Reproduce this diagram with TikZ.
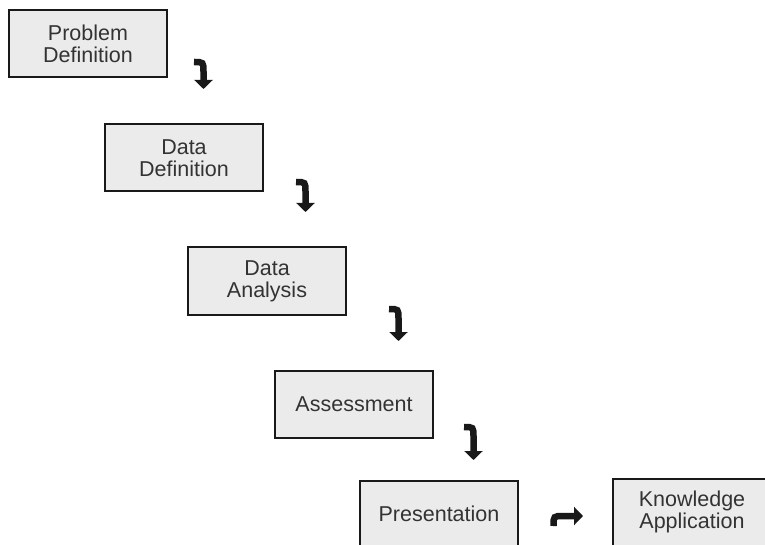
\documentclass[tikz,border=0pt]{standalone}
\usepackage{fontspec}
\setmainfont{Liberation Sans}
\usepackage{tikz}
\usetikzlibrary{arrows.meta,calc}
\definecolor{boxfill}{HTML}{EBEBEB}
\definecolor{boxtext}{HTML}{333333}
\tikzset{
  stepbox/.style={draw=black!90, line width=2pt, fill=boxfill, text=boxtext,
    minimum width=158pt, minimum height=67pt, align=center, inner sep=0pt,
    font=\fontsize{21.5}{22}\selectfont},
  bendarrow/.style={line width=6.5pt, black!90, -{Triangle[width=18pt,length=9pt]}}
}
\begin{document}
\begin{tikzpicture}[x=1pt,y=-1pt]
    \useasboundingbox (0,0) rectangle (765,545);
    \clip (0,0) rectangle (765,545);
    % steps
    \node[stepbox] (pd) at (88,44)    {Problem\\Definition};
    \node[stepbox] (dd) at (184,158)  {Data\\Definition};
    \node[stepbox] (da) at (267,281)  {Data\\Analysis};
    \node[stepbox] (as) at (354,404)  {Assessment};
    \node[stepbox] (pr) at (439,514)  {Presentation};
    \node[stepbox] (ka) at (692,512)  {Knowledge\\Application};
    % arrow ends
    \coordinate (a1s) at (194,62);  \coordinate (a1e) at (203.5,89);
    \coordinate (a2s) at (296,182); \coordinate (a2e) at (305.5,212);
    \coordinate (a3s) at (389,309); \coordinate (a3e) at (398.5,341);
    \coordinate (a4s) at (464,427); \coordinate (a4e) at (473.5,460);
    \coordinate (a5s) at (553.5,526); \coordinate (a5e) at (583,516);
    % arrows
    \draw[bendarrow] (a1s) .. controls (a1e |- a1s) .. ($(a1e |- a1s)+(0,10)$) -- (a1e);
    \draw[bendarrow] (a2s) .. controls (a2e |- a2s) .. ($(a2e |- a2s)+(0,10)$) -- (a2e);
    \draw[bendarrow] (a3s) .. controls (a3e |- a3s) .. ($(a3e |- a3s)+(0,10)$) -- (a3e);
    \draw[bendarrow] (a4s) .. controls (a4e |- a4s) .. ($(a4e |- a4s)+(0,10)$) -- (a4e);
    \draw[bendarrow] (a5s) .. controls (a5s |- a5e) .. ($(a5s |- a5e)+(10,0)$) -- (a5e);
\end{tikzpicture}
\end{document}
